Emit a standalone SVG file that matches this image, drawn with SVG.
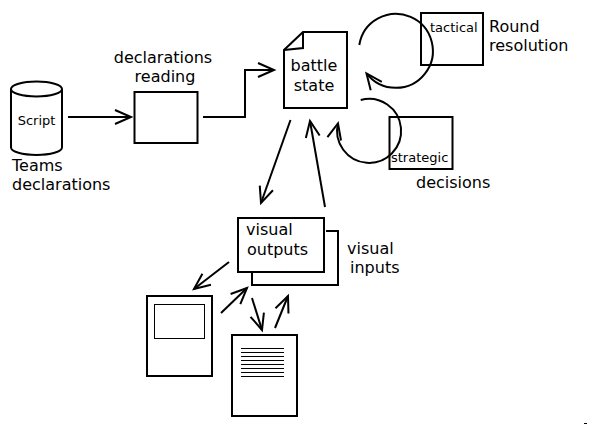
<svg xmlns="http://www.w3.org/2000/svg" width="589" height="425" viewBox="0 0 589 425">
<style>
text{font-family:"DejaVu Sans","Liberation Sans",sans-serif;fill:#000}
.t16{font-size:16px}
.t13{font-size:13px}
.s{fill:none;stroke:#000;stroke-width:2}
.w{fill:#fff;stroke:#000;stroke-width:2}
.thin{fill:none;stroke:#000;stroke-width:1}
.arr{fill:none;stroke:#000;stroke-width:2;marker-end:url(#open)}
</style>
<defs>
<marker id="open" markerUnits="userSpaceOnUse" markerWidth="20" markerHeight="16" refX="16" refY="7" orient="auto" overflow="visible">
<path d="M0,0 L16,7 L0,14" fill="none" stroke="#000" stroke-width="2"/>
</marker>
</defs>
<rect width="589" height="425" fill="#fff"/>

<g id="script">
<path class="w" d="M11,89 L11,147.5 A25.5,7.5 0 0 0 62,147.5 L62,89"/>
<ellipse class="w" cx="36.5" cy="89" rx="25.5" ry="7.5"/>
<text class="t13" x="36.5" y="125" text-anchor="middle">Script</text>
<text class="t16" x="12" y="171">Teams</text>
<text class="t16" x="12" y="190">declarations</text>
</g>

<g id="declarations-reading">
<text class="t16" x="163" y="63" text-anchor="middle">declarations</text>
<text class="t16" x="165" y="82" text-anchor="middle">reading</text>
<rect class="w" x="134.5" y="92" width="63" height="51"/>
</g>

<g id="battle-state">
<path class="w" d="M303,32 L347,32 L347,108 L284,108 L284,50 Z"/>
<path class="s" d="M284,50 L303,48 L303,32"/>
<text class="t16" x="314" y="71" text-anchor="middle">battle</text>
<text class="t16" x="314" y="91" text-anchor="middle">state</text>
</g>

<g id="tactical">
<rect class="s" x="421" y="13" width="62" height="52"/>
<text class="t13" x="430" y="32">tactical</text>
<text class="t16" x="489" y="32">Round</text>
<text class="t16" x="489" y="51">resolution</text>
</g>

<g id="strategic">
<rect class="s" x="389.5" y="117" width="63" height="52"/>
<text class="t13" x="391" y="162">strategic</text>
<text class="t16" x="416" y="188">decisions</text>
</g>

<g id="visual-outputs">
<path class="s" d="M326,231 L338,231 L338,285 L252,285 L252,273"/>
<rect class="s" x="238" y="218" width="86" height="54"/>
<text class="t16" x="246" y="235">visual</text>
<text class="t16" x="247" y="255">outputs</text>
<text class="t16" x="347" y="254">visual</text>
<text class="t16" x="350" y="273">inputs</text>
</g>

<g id="screen">
<rect class="s" x="147" y="296" width="65" height="80"/>
<rect class="thin" x="154.5" y="304.5" width="50" height="34"/>
</g>

<g id="document">
<rect class="s" x="232" y="335" width="65" height="81"/>
<path class="thin" d="M241,348.5 H284 M241,352.5 H284 M241,356.5 H284 M241,360.5 H284 M241,364.5 H284 M241,368.5 H284 M241,372.5 H284 M241,376.5 H284"/>
</g>

<g id="connectors">
<line class="arr" x1="68" y1="117" x2="131" y2="117"/>
<path class="arr" d="M203,117 L245,117 L245,70 L274,70"/>
<path class="arr" d="M359.3,45 A37,37 0 1 1 366.5,73.4"/>
<path class="arr" d="M360.7,100 A32,32 0 1 1 338,123.3"/>
<line class="arr" x1="290.5" y1="120" x2="261" y2="203"/>
<line class="arr" x1="325" y1="207" x2="310" y2="121"/>
<line class="arr" x1="229" y1="262" x2="194" y2="289"/>
<line class="arr" x1="221" y1="313" x2="247" y2="288"/>
<line class="arr" x1="252" y1="298" x2="262" y2="330"/>
<line class="arr" x1="275" y1="328" x2="288" y2="296"/>
</g>
<rect x="584" y="423" width="3" height="1" fill="#000"/>
</svg>
